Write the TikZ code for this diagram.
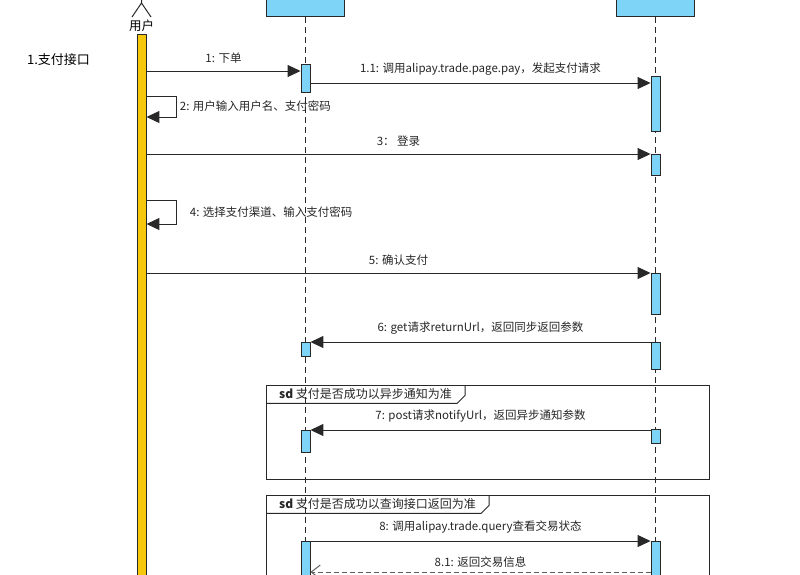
\documentclass[tikz,border=0pt]{standalone}
\usepackage{fontspec}
\setmainfont{Noto Sans CJK SC}
\usepackage{tikz}
\usetikzlibrary{arrows.meta,calc,positioning}
\definecolor{actblue}{RGB}{126,212,246}
\definecolor{baryellow}{RGB}{246,200,12}
\definecolor{lineclr}{RGB}{40,40,40}
\tikzset{%
	head/.style     = {draw=lineclr, fill=actblue, line width=1pt, minimum width=78pt, minimum height=40pt, anchor=south},
	lifeline/.style = {draw=lineclr, line width=0.9pt, dash pattern=on 6pt off 4pt},
	actbar/.style   = {draw=lineclr, fill=actblue, line width=0.9pt, minimum width=9pt, inner sep=0pt, anchor=north},
	userbar/.style  = {draw=lineclr, fill=baryellow, line width=0.9pt, minimum width=9pt, inner sep=0pt, anchor=north},
	msg/.style      = {draw=lineclr, line width=1pt, -{Triangle[length=13pt,width=12pt]}},
	reply/.style    = {draw=lineclr!75, line width=1pt, dash pattern=on 5pt off 3pt, -{Straight Barb[length=9pt,width=14pt]}},
	lbl/.style      = {font=\fontsize{11.5}{13}\selectfont, text=black!85, inner sep=1pt},
	framebox/.style = {draw=lineclr, line width=1pt, anchor=north west, inner sep=0pt},
	sdlabel/.style  = {font=\fontsize{12}{14}\selectfont, text=black!85, inner xsep=13pt, inner ysep=0pt, minimum height=18pt, anchor=north west},
}
\begin{document}
\begin{tikzpicture}[x=1pt,y=-1pt]
	\useasboundingbox (0,0) rectangle (800,574);
	\clip (0,0) rectangle (800,574);
	
	% message levels
	\foreach \n/\y in {1/71,11/83,2/96,2b/117,3/154,4/200,4b/224,5/273,6/342,7/430,8/541,81/572,bot/600} \coordinate (y\n) at (0,\y);
	
	\node[font=\fontsize{13}{15}\selectfont] (title) at (58.5,60) {1.支付接口};
	
	\node[font=\fontsize{12.5}{14}\selectfont, inner sep=0pt] (user) at (141.5,26) {用户};
	\draw[draw=lineclr, line width=1pt] (132,17) -- (141.5,3) -- (151,17) (141.5,3) -- (141.5,-6);
	\node[head] (mhead) at (305.5,17) {};
	\node[head] (ahead) at (655.5,17) {};
	\draw[lifeline] (mhead.south) -- (mhead.south |- ybot);
	\draw[lifeline] (ahead.south) -- (ahead.south |- ybot);
	\node[userbar, minimum height=570pt] (ubar) at (141.5,34) {};
	
	% frames
	\node[framebox, minimum width=443pt, minimum height=94pt] (sd1) at (266,385) {};
	\node[sdlabel] (sd1t) at (sd1.north west) {\textbf{sd} 支付是否成功以异步通知为准};
	\draw[draw=lineclr, line width=1pt] (sd1t.south west) -- ([xshift=-8pt]sd1t.south east) -- ([yshift=8pt]sd1t.south east) -- (sd1t.north east);
	\node[framebox, minimum width=443pt, minimum height=120pt] (sd2) at (266,495) {};
	\node[sdlabel] (sd2t) at (sd2.north west) {\textbf{sd} 支付是否成功以查询接口返回为准};
	\draw[draw=lineclr, line width=1pt] (sd2t.south west) -- ([xshift=-8pt]sd2t.south east) -- ([yshift=8pt]sd2t.south east) -- (sd2t.north east);
	
	% activations
	\foreach \n/\x/\t/\h in {m1/305.5/64/28, m6/305.5/342/14, m7/305.5/430/22, m8/305.5/541/60,
		a1/655.5/76/55, a3/655.5/154/21, a5/655.5/273/41, a6/655.5/342/27, a7/655.5/429/14, a8/655.5/541/60}
		\node[actbar, minimum height=\h] (\n) at (\x,\t) {};
	
	\draw[msg] (ubar.east |- y1) -- node[lbl, above=6pt] (l1) {1: 下单} (m1.west |- y1);
	\draw[msg] (m1.east |- y11) -- node[lbl, above=6pt] (l11) {1.1: 调用alipay.trade.page.pay，发起支付请求} (a1.west |- y11);
	\draw[msg] (ubar.east |- y2) -- ++(30,0) |- node[lbl, right=2pt, pos=0.25] (l2) {2: 用户输入用户名、支付密码} (ubar.east |- y2b);
	\draw[msg] (ubar.east |- y3) -- node[lbl, above=6pt] (l3) {3：\ 登录} (a3.west |- y3);
	\draw[msg] (ubar.east |- y4) -- ++(30,0) |- node[lbl, right=12pt, pos=0.25] (l4) {4: 选择支付渠道、输入支付密码} (ubar.east |- y4b);
	\draw[msg] (ubar.east |- y5) -- node[lbl, above=6pt] (l5) {5: 确认支付} (a5.west |- y5);
	\draw[msg] (a6.west |- y6) -- node[lbl, above=6pt] (l6) {6: get请求returnUrl，返回同步返回参数} (m6.east |- y6);
	\draw[msg] (a7.west |- y7) -- node[lbl, above=6pt] (l7) {7: post请求notifyUrl，返回异步通知参数} (m7.east |- y7);
	\draw[msg] (m8.east |- y8) -- node[lbl, above=6pt] (l8) {8: 调用alipay.trade.query查看交易状态} (a8.west |- y8);
	\draw[reply] (a8.west |- y81) -- node[lbl, above=3pt] (l81) {8.1: 返回交易信息} (m8.east |- y81);
\end{tikzpicture}
\end{document}
